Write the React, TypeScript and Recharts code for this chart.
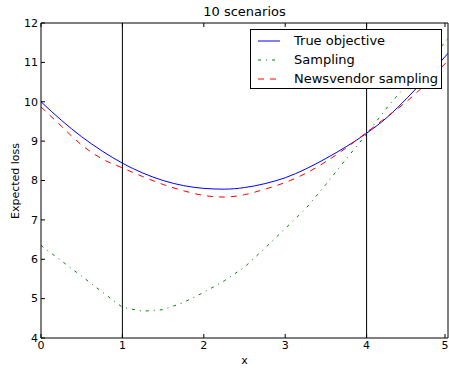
import React from 'react';
import { LineChart, Line, XAxis, YAxis, ReferenceLine } from 'recharts';

const xs = [0, 0.25, 0.5, 0.75, 1, 1.25, 1.5, 1.75, 2, 2.25, 2.5, 2.75, 3, 3.25, 3.5, 3.75, 4, 4.25, 4.5, 4.75, 5];
const trueObjective = [10.0, 9.53, 9.11, 8.75, 8.44, 8.19, 8.0, 7.87, 7.8, 7.78, 7.82, 7.92, 8.07, 8.29, 8.56, 8.86, 9.2, 9.6, 10.1, 10.65, 11.23];
const sampling = [6.35, 5.96, 5.57, 5.17, 4.78, 4.68, 4.72, 4.9, 5.16, 5.45, 5.8, 6.28, 6.78, 7.28, 7.9, 8.55, 9.18, 9.85, 10.45, 11.0, 11.6];
const newsvendor = [9.87, 9.38, 8.9, 8.55, 8.32, 8.1, 7.9, 7.74, 7.62, 7.58, 7.64, 7.78, 7.95, 8.18, 8.48, 8.83, 9.22, 9.62, 10.02, 10.5, 11.05];
const xTicks = [0, 1, 2, 3, 4, 5];
const yTicks = [4, 5, 6, 7, 8, 9, 10, 11, 12];
const marks = [1, 4];

const data = xs.map((x, i) => ({
  x,
  trueObj: trueObjective[i],
  sampling: sampling[i],
  newsvendor: newsvendor[i],
}));

const FONT = '"DejaVu Sans", sans-serif';

const series = [
  { key: 'trueObj', name: 'True objective', color: '#0000ff', dash: undefined, type: 'monotone' },
  { key: 'sampling', name: 'Sampling', color: '#008000', dash: '3 5 1 5', type: 'linear' },
  { key: 'newsvendor', name: 'Newsvendor sampling', color: '#ff0000', dash: '6 6', type: 'monotone' },
];

// matplotlib-style ticks: marks point inward, labels outside
const LeftTick = (p: any) => (
  <g>
    <line x1={p.x + 3} x2={p.x + 7} y1={p.y} y2={p.y} stroke="#000" />
    <text x={p.x} y={p.y} dy="0.35em" textAnchor="end" fontSize={11} fontFamily={FONT} fill="#000">
      {p.payload.value}
    </text>
  </g>
);

const BottomTick = (p: any) => (
  <g>
    <line x1={p.x} x2={p.x} y1={p.y - 3} y2={p.y - 7} stroke="#000" />
    <text x={p.x} y={p.y} dy="0.71em" textAnchor="middle" fontSize={11} fontFamily={FONT} fill="#000">
      {p.payload.value}
    </text>
  </g>
);

const TopTick = (p: any) => <line x1={p.x} x2={p.x} y1={p.y} y2={p.y + 4} stroke="#000" />;
const RightTick = (p: any) => <line x1={p.x} x2={p.x - 4} y1={p.y} y2={p.y} stroke="#000" />;

const LegendBox = () => (
  <div
    style={{
      position: 'absolute',
      left: 250,
      top: 29,
      width: 192,
      height: 60,
      border: '1px solid #000',
      background: '#fff',
      fontFamily: FONT,
      fontSize: 13,
      boxSizing: 'border-box',
    }}
  >
    {series.map((s, i) => (
      <div key={s.key} style={{ position: 'absolute', left: 7, top: 2 + i * 19, height: 17, display: 'flex', alignItems: 'center' }}>
        <svg width={22} height={4} style={{ marginRight: 14 }}>
          <line x1={0} x2={22} y1={2} y2={2} stroke={s.color} strokeDasharray={s.dash} />
        </svg>
        <span style={{ whiteSpace: 'nowrap' }}>{s.name}</span>
      </div>
    ))}
  </div>
);

export default function App() {
  return (
    <div style={{ position: 'absolute', left: 0, top: 0, width: 449, height: 368, background: '#fff', overflow: 'hidden' }}>
      <LineChart width={449} height={368} data={data} margin={{ top: 22, right: 0, bottom: 29, left: 40 }}>
        <XAxis
          dataKey="x"
          type="number"
          domain={[0, 5]}
          ticks={xTicks}
          height={1}
          tickSize={0}
          tickMargin={3}
          tickLine={false}
          axisLine={{ stroke: '#000' }}
          tick={BottomTick}
          allowDataOverflow
        />
        <XAxis
          xAxisId="top"
          orientation="top"
          dataKey="x"
          type="number"
          domain={[0, 5]}
          ticks={xTicks}
          height={1}
          tickSize={0}
          tickMargin={0}
          tickLine={false}
          axisLine={{ stroke: '#000' }}
          tick={TopTick}
        />
        <YAxis
          type="number"
          domain={[4, 12]}
          ticks={yTicks}
          width={1}
          tickSize={0}
          tickMargin={3}
          tickLine={false}
          axisLine={{ stroke: '#000' }}
          tick={LeftTick}
          allowDataOverflow
        />
        <YAxis
          yAxisId="right"
          orientation="right"
          type="number"
          domain={[4, 12]}
          ticks={yTicks}
          width={1}
          tickSize={0}
          tickMargin={0}
          tickLine={false}
          axisLine={{ stroke: '#000' }}
          tick={RightTick}
        />
        {marks.map((m) => (
          <ReferenceLine key={m} x={m} stroke="#000" strokeWidth={1} />
        ))}
        {series.map((s) => (
          <Line
            key={s.key}
            type={s.type as any}
            dataKey={s.key}
            stroke={s.color}
            strokeWidth={1}
            strokeDasharray={s.dash}
            dot={false}
            isAnimationActive={false}
          />
        ))}
      </LineChart>
      <div style={{ position: 'absolute', left: 41, width: 407, top: 4, textAlign: 'center', fontFamily: FONT, fontSize: 13 }}>
        10 scenarios
      </div>
      <div style={{ position: 'absolute', left: 41, width: 407, top: 354, textAlign: 'center', fontFamily: FONT, fontSize: 11 }}>
        x
      </div>
      <div
        style={{
          position: 'absolute',
          left: 15,
          top: 181,
          transform: 'translate(-50%, -50%) rotate(-90deg)',
          fontFamily: FONT,
          fontSize: 11,
          whiteSpace: 'nowrap',
        }}
      >
        Expected loss
      </div>
      <LegendBox />
    </div>
  );
}
